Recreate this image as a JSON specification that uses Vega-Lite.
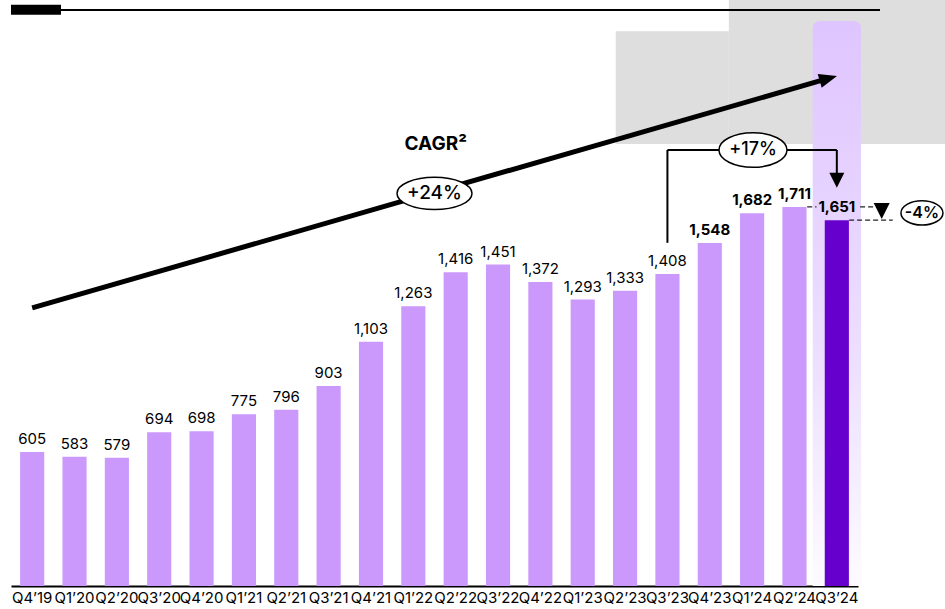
{
  "$schema": "https://vega.github.io/schema/vega-lite/v6.json",
  "width": 945,
  "height": 586,
  "autosize": "none",
  "padding": {"left": 0, "top": 0, "right": 0, "bottom": 23},
  "background": "white",
  "config": {"view": {"stroke": null}, "font": "Inter", "text": {"font": "Inter"}},
  "datasets": {
    "bars": [
      {"q": "Q4’19", "v": 605}, {"q": "Q1’20", "v": 583}, {"q": "Q2’20", "v": 579}, {"q": "Q3’20", "v": 694},
      {"q": "Q4’20", "v": 698}, {"q": "Q1’21", "v": 775}, {"q": "Q2’21", "v": 796}, {"q": "Q3’21", "v": 903},
      {"q": "Q4’21", "v": 1103}, {"q": "Q1’22", "v": 1263}, {"q": "Q2’22", "v": 1416}, {"q": "Q3’22", "v": 1451},
      {"q": "Q4’22", "v": 1372}, {"q": "Q1’23", "v": 1293}, {"q": "Q2’23", "v": 1333}, {"q": "Q3’23", "v": 1408},
      {"q": "Q4’23", "v": 1548}, {"q": "Q1’24", "v": 1682}, {"q": "Q2’24", "v": 1711}, {"q": "Q3’24", "v": 1651}
    ]
  },
  "layer": [
    {
      "encoding": {
        "x": {"field": "x", "type": "quantitative", "scale": {"domain": [-0.5, 19.5], "range": [11, 858]}, "axis": null},
        "y": {"field": "y", "type": "quantitative", "scale": {"domain": [0, 2645], "nice": false, "zero": true}, "axis": null}
      },
      "layer": [
        {
          "data": {"values": [{"x": 13.78, "x2": 16.45, "y": 2504, "y2": 1995}, {"x": 16.45, "x2": 21.6, "y": 2645, "y2": 1995}]},
          "mark": {"type": "rect", "color": "#dedede"},
          "encoding": {"x2": {"field": "x2"}, "y2": {"field": "y2"}}
        },
        {
          "data": {"values": [{"x": -0.5, "x2": 20.02, "y": 2600}]},
          "mark": {"type": "rule", "color": "black", "strokeWidth": 2},
          "encoding": {"x2": {"field": "x2"}}
        },
        {
          "data": {"values": [{"x": -0.5, "x2": 0.68, "y": 2623, "y2": 2578}]},
          "mark": {"type": "rect", "color": "black"},
          "encoding": {"x2": {"field": "x2"}, "y2": {"field": "y2"}}
        },
        {
          "data": {"values": [{"x": 18.43, "x2": 19.57, "y": 2550, "y2": 0}]},
          "mark": {
            "type": "rect",
            "cornerRadiusTopLeft": 7,
            "cornerRadiusTopRight": 7,
            "color": {"x1": 0, "y1": 0, "x2": 0, "y2": 1, "gradient": "linear", "stops": [{"offset": 0, "color": "#dfc5ff"}, {"offset": 0.6, "color": "#eddfff"}, {"offset": 1, "color": "#fdfbff"}]}
          },
          "encoding": {"x2": {"field": "x2"}, "y2": {"field": "y2"}}
        }
      ]
    },
    {
      "data": {"name": "bars"},
      "encoding": {
        "x": {
          "field": "q", "type": "nominal", "sort": null,
          "scale": {"type": "band", "range": [11, 858], "paddingInner": 0.43, "paddingOuter": 0.215},
          "axis": {"title": null, "labelAngle": 0, "labelFontSize": 15, "labelColor": "black", "labelFont": "Inter", "domainColor": "black", "domainWidth": 2, "ticks": false, "labelPadding": 4}
        },
        "y": {"field": "v", "type": "quantitative", "scale": {"domain": [0, 2645], "nice": false, "zero": true}, "axis": null}
      },
      "layer": [
        {
          "mark": {"type": "bar"},
          "encoding": {
            "color": {"condition": {"test": "datum.q === 'Q3’24'", "value": "#6600cc"}, "value": "#cb99fb"}
          }
        },
        {
          "transform": [{"filter": "datum.v < 1500"}],
          "mark": {"type": "text", "fontSize": 15, "dy": -8, "baseline": "alphabetic", "color": "black"},
          "encoding": {"text": {"field": "v", "type": "quantitative", "format": ","}}
        },
        {
          "transform": [{"filter": "datum.v >= 1500"}],
          "mark": {"type": "text", "fontSize": 15, "fontWeight": "bold", "dy": -8, "baseline": "alphabetic", "color": "black"},
          "encoding": {"text": {"field": "v", "type": "quantitative", "format": ","}}
        }
      ]
    },
    {
      "encoding": {
        "x": {"field": "x", "type": "quantitative", "scale": {"domain": [-0.5, 19.5], "range": [11, 858]}, "axis": null},
        "y": {"field": "y", "type": "quantitative", "scale": {"domain": [0, 2645], "nice": false, "zero": true}, "axis": null}
      },
      "layer": [
        {
          "data": {"values": [{"x": 0, "y": 1255, "x2": 18.8, "y2": 2291}]},
          "mark": {"type": "rule", "color": "black", "strokeWidth": 5},
          "encoding": {"x2": {"field": "x2"}, "y2": {"field": "y2"}}
        },
        {
          "data": {"values": [{"x": 18.8, "y": 2291}]},
          "mark": {"type": "point", "shape": "M0,-1 L0.8,1 L-0.8,1 Z", "size": 324, "angle": 74, "filled": true, "color": "black", "opacity": 1}
        },
        {
          "data": {"values": [{"x": 15, "y": 1549, "x2": 15, "y2": 1968}, {"x": 15, "y": 1968, "x2": 19, "y2": 1968}, {"x": 19, "y": 1968, "x2": 19, "y2": 1850}]},
          "mark": {"type": "rule", "color": "black", "strokeWidth": 2},
          "encoding": {"x2": {"field": "x2"}, "y2": {"field": "y2"}}
        },
        {
          "data": {"values": [{"x": 19, "y": 1831}]},
          "mark": {"type": "point", "shape": "M-1,-1 L1,-1 L0,1 Z", "size": 225, "filled": true, "color": "black", "opacity": 1}
        },
        {
          "data": {"values": [{"x": 18.3, "y": 1711, "x2": 18.52}, {"x": 19.55, "y": 1711, "x2": 19.88}, {"x": 19.29, "y": 1651, "x2": 20.32}]},
          "mark": {"type": "rule", "color": "#222222", "strokeWidth": 1.3, "strokeDash": [5, 3]},
          "encoding": {"x2": {"field": "x2"}}
        },
        {
          "data": {"values": [{"x": 20.06, "y": 1693}]},
          "mark": {"type": "point", "shape": "M-1,-1 L1,-1 L0,1 Z", "size": 256, "filled": true, "color": "black", "opacity": 1}
        },
        {
          "data": {"values": [{"x": 9.5, "y": 1772}]},
          "mark": {"type": "point", "shape": "M-1,0 A1,0.43 0 1,1 1,0 A1,0.43 0 1,1 -1,0 Z", "size": 5625, "filled": true, "fill": "white", "stroke": "black", "strokeWidth": 1.5, "opacity": 1}
        },
        {
          "data": {"values": [{"x": 17.02, "y": 1968}]},
          "mark": {"type": "point", "shape": "M-1,0 A1,0.51 0 1,1 1,0 A1,0.51 0 1,1 -1,0 Z", "size": 4624, "filled": true, "fill": "white", "stroke": "black", "strokeWidth": 1.5, "opacity": 1}
        },
        {
          "data": {"values": [{"x": 21.01, "y": 1684}]},
          "mark": {"type": "point", "shape": "M-1,0 A1,0.58 0 1,1 1,0 A1,0.58 0 1,1 -1,0 Z", "size": 1764, "filled": true, "fill": "white", "stroke": "black", "strokeWidth": 1.5, "opacity": 1}
        },
        {
          "data": {"values": [{"x": 9.5, "y": 1772, "t": "+24%", "s": 19}, {"x": 17.02, "y": 1968, "t": "+17%", "s": 18}]},
          "mark": {"type": "text", "color": "black", "baseline": "middle", "align": "center", "fontWeight": 500},
          "encoding": {"text": {"field": "t"}, "size": {"field": "s", "type": "quantitative", "scale": null}}
        },
        {
          "data": {"values": [{"x": 21.01, "y": 1684, "t": "-4%"}]},
          "mark": {"type": "text", "color": "black", "baseline": "middle", "align": "center", "fontSize": 16, "fontWeight": 600},
          "encoding": {"text": {"field": "t"}}
        },
        {
          "data": {"values": [{"x": 9.53, "y": 1993, "t": "CAGR²"}]},
          "mark": {"type": "text", "color": "black", "baseline": "middle", "align": "center", "fontSize": 19, "fontWeight": "bold"},
          "encoding": {"text": {"field": "t"}}
        }
      ]
    }
  ],
  "resolve": {"scale": {"x": "independent"}, "axis": {"x": "independent"}}
}
